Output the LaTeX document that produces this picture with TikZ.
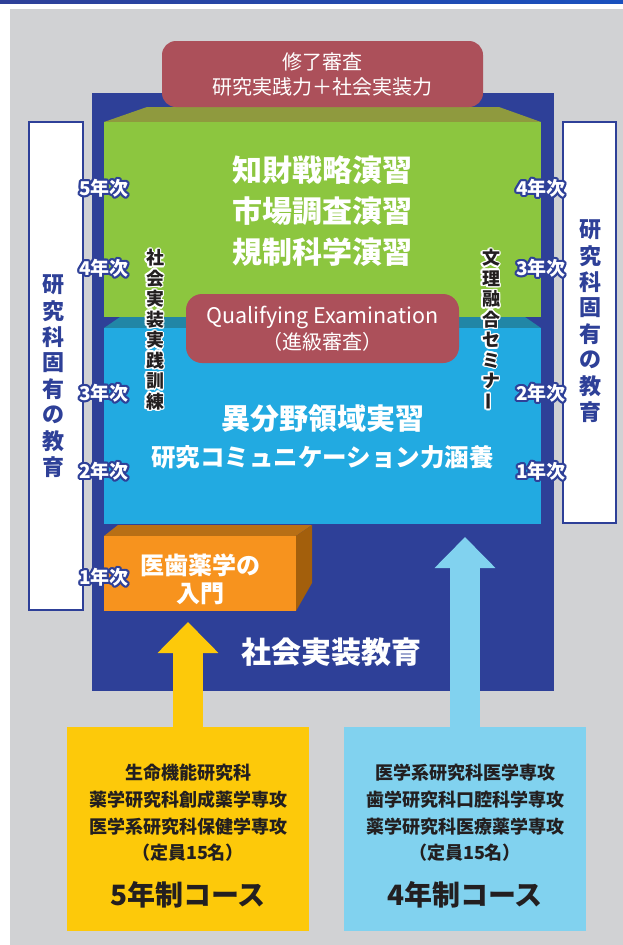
\documentclass[tikz,border=0pt]{standalone}
\usepackage{fontspec}
\setmainfont{Noto Sans CJK JP}
\usepackage{tikz}
\usetikzlibrary{arrows.meta,positioning}
\usepackage{xcolor}

\definecolor{bggrey}{RGB}{209,210,212}
\definecolor{navy}{RGB}{46,64,152}
\definecolor{exred}{RGB}{172,80,90}
\definecolor{leaf}{RGB}{140,198,63}
\definecolor{leafdark}{RGB}{143,154,62}
\definecolor{sky}{RGB}{34,170,225}
\definecolor{skydark}{RGB}{33,134,166}
\definecolor{orng}{RGB}{247,147,30}
\definecolor{orngtop}{RGB}{184,111,21}
\definecolor{orngside}{RGB}{163,95,12}
\definecolor{yel}{RGB}{253,201,10}
\definecolor{pale}{RGB}{129,210,239}
\definecolor{ink}{RGB}{35,31,32}

% text with an outline: [radius] outline colour, text colour, text
\newcommand{\halo}[4][1.6pt]{%
	\foreach \hang in {0,30,...,330}{%
		\pgfmathsetlengthmacro{\hx}{#1*cos(\hang)}%
		\pgfmathsetlengthmacro{\hy}{#1*sin(\hang)}%
		\rlap{\hspace*{\hx}\raisebox{\hy}{\textcolor{#2}{#4}}}}%
	\textcolor{#3}{#4}}

\tikzset{
	plain/.style={inner sep=0pt, outer sep=0pt},
	yearlabel/.style={plain, font=\bfseries\fontsize{19}{19}\selectfont},
	vchar/.style={plain, font=\bfseries\fontsize{18}{18}\selectfont},
	vside/.style={plain, text=navy, font=\bfseries\fontsize{22}{22}\selectfont},
	exambox/.style={plain, fill=exred, rounded corners=14pt, text=white, align=center},
	bigwhite/.style={plain, align=center, text=white, font=\bfseries\fontsize{30}{41}\selectfont},
	coursetext/.style={plain, align=center, text=ink, font=\bfseries\fontsize{18}{26.6}\selectfont},
	coursename/.style={plain, text=ink, font=\bfseries\fontsize{28}{28}\selectfont},
	blockarrow/.style={line width=30pt, -{Triangle[length=31pt,width=59pt]}},
}

\begin{document}
\begin{tikzpicture}[x=1pt, y=-1pt] % {{{
		\useasboundingbox (0,0) rectangle (623,945);
		\fill[white] (0,0) rectangle (623,945);
		\shade[left color=navy, middle color={rgb,255:red,60;green,130;blue,220}, right color={rgb,255:red,25;green,80;blue,190}] (0,0) rectangle (623,3.5);
		\fill[bggrey] (10,9) rectangle (623,945);
		\fill[navy] (92,93) rectangle (554,691);
		% side columns {{{
		\draw[navy, line width=1.2pt, fill=white] (29,122) rectangle (83,610);
		\draw[navy, line width=1.2pt, fill=white] (563,122) rectangle (616,523);
		\foreach \c [count=\i from 0] in {研,究,科,固,有,の,教,育} {
			\node[vside] (kenL\i) at (53,285+26*\i) {\c};
			\node[vside] (kenR\i) at (590,230+26*\i) {\c};
		}
		% }}}
		% green block {{{
		\fill[leafdark] (104,122) -- (147,107) -- (499,107) -- (541,122) -- cycle;
		\node[plain, fill=leaf, minimum width=437pt, minimum height=195pt] (chizai) at (322.5,219.5) {};
		\node[bigwhite] (chizaitext) at (322.5,211) {知財戦略演習\\市場調査演習\\規制科学演習};
		% }}}
		% blue block {{{
		\fill[skydark] (104,328) -- (120,317) -- (525,317) -- (541,328) -- cycle;
		\node[plain, fill=sky, minimum width=437pt, minimum height=196pt] (ibunya) at (322.5,426) {};
		\node[bigwhite, font=\bfseries\fontsize{24.5}{37}\selectfont] (ibunyatext) at (322.5,437) {{\fontsize{29}{37}\selectfont 異分野領域実習}\\研究コミュニケーション力涵養};
		% }}}
		% orange block {{{
		\fill[orngtop] (104,536) -- (118,525) -- (312,525) -- (296,536) -- cycle;
		\fill[orngside] (296,536) -- (312,525) -- (312,583) -- (296,611) -- cycle;
		\node[plain, fill=orng, minimum width=192pt, minimum height=75pt] (iryaku) at (200,573.5) {};
		\node[plain, align=center, text=white, font=\bfseries\fontsize{24}{28}\selectfont] (iryakutext) at (200,579) {医歯薬学の\\入門};
		% }}}
		\node[exambox, minimum width=321pt, minimum height=66pt, font=\fontsize{20}{25}\selectfont] (shuryo) at (322.5,74) {修了審査\\研究実践力＋社会実装力};
		\node[exambox, rounded corners=16pt, minimum width=273pt, minimum height=69pt, font=\fontsize{21.5}{26}\selectfont] (qe) at (322.5,328.5) {Qualifying Examination\\{\fontsize{20}{26}\selectfont（進級審査）}};
		\node[plain, text=white, font=\bfseries\fontsize{30}{30}\selectfont] (shakai) at (331,652) {社会実装教育};
		% vertical seminars {{{
		\foreach \c [count=\i from 0] in {社,会,実,装,実,践,訓,練}
			\node[vchar] (jissen\i) at (155,258+20.5*\i) {\halo{white}{ink}{\c}};
		\foreach \c [count=\i from 0] in {文,理,融,合,セ,ミ,ナ,{\rotatebox{90}{ー}}}
			\node[vchar] (bunri\i) at (491,258+20.5*\i) {\halo{white}{ink}{\c}};
		% }}}
		% years {{{
		\foreach \yr/\yy in {5/188,4/268,3/393,2/471,1/577}
			\node[yearlabel] (yearL\yr) at (104,\yy) {\halo[2.2pt]{navy}{white}{\yr 年次}};
		\foreach \yr/\yy in {4/188,3/268,2/393,1/471}
			\node[yearlabel] (yearR\yr) at (541,\yy) {\halo[2.2pt]{navy}{white}{\yr 年次}};
		% }}}
		% courses {{{
		\node[plain, fill=yel, minimum width=242pt, minimum height=204pt] (fiveyr) at (188,829) {};
		\node[plain, fill=pale, minimum width=242pt, minimum height=204pt] (fouryr) at (465,829) {};
		\node[coursetext] (fivelist) at (188,813) {生命機能研究科\\薬学研究科創成薬学専攻\\医学系研究科保健学専攻\\（定員15名）};
		\node[coursename] (fivename) at (188,895) {5年制コース};
		\node[coursetext] (fourlist) at (465,813) {医学系研究科医学専攻\\歯学研究科口腔科学専攻\\薬学研究科医療薬学専攻\\（定員15名）};
		\node[coursename] (fourname) at (465,895) {4年制コース};
		\draw[blockarrow, yel, shorten >=11pt] (fiveyr.north) -- (fiveyr.north |- iryaku.south);
		\draw[blockarrow, pale, shorten >=13pt] (fouryr.north) -- (fouryr.north |- ibunya.south);
		% }}}
\end{tikzpicture} % }}}
\end{document}
